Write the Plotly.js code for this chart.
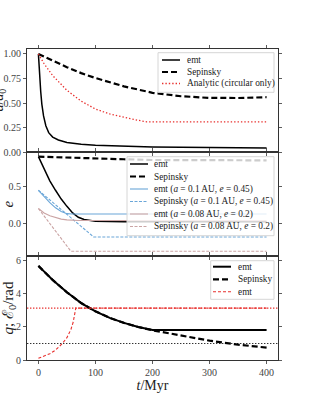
<!DOCTYPE html>
<html><head><meta charset="utf-8">
<script src="https://cdn.plot.ly/plotly-3.0.1.min.js"></script>
<style>html,body{margin:0;padding:0;background:#fff;}#chart{width:311px;height:405px;}</style>
</head><body><div id="chart"></div>
<script>
// ---------------- data ----------------
// top panel: a/a0
const tEmtA = [0,2,4,6,9,13,18,25,35,50,75,100,150,200,300,400];
const aEmt  = [1.0,0.78,0.62,0.49,0.37,0.27,0.2,0.155,0.125,0.1,0.082,0.072,0.061,0.054,0.048,0.045];
const tSepA = [0,25,50,75,100,150,200,250,300,350,400];
const aSep  = [1.0,0.93,0.865,0.805,0.755,0.67,0.605,0.57,0.553,0.552,0.56];
const tAna  = [0,10,25,50,75,100,125,150,175,190,400];
const aAna  = [1.0,0.9,0.78,0.63,0.52,0.44,0.39,0.355,0.325,0.31,0.31];
// middle panel: e
const tEmtE = [0,10,20,30,40,50,60,70,80,100,150,400];
const eEmt  = [0.91,0.74,0.58,0.45,0.33,0.23,0.14,0.08,0.05,0.025,0.02,0.02];
const tSepE = [0,50,100,150,200,300,400];
const eSep  = [0.91,0.895,0.885,0.875,0.865,0.86,0.86];
const tEmtB = [0,10,20,30,40,50,60,400];
const eEmtB = [0.45,0.36,0.28,0.21,0.16,0.13,0.125,0.125];
const tSepB = [0,97,400];
const eSepB = [0.45,-0.19,-0.19];
const tEmtR = [0,10,20,30,40,50,70,400];
const eEmtR = [0.2,0.14,0.10,0.075,0.055,0.045,0.037,0.035];
const tSepR = [0,57,400];
const eSepR = [0.2,-0.385,-0.385];
// bottom panel: q ; E0/rad
const tEmtQ = [0,25,50,75,100,125,150,175,200,400];
const qEmt  = [5.7,4.85,4.1,3.45,2.95,2.55,2.25,2.0,1.82,1.82];
const tSepQ = [0,25,50,75,100,125,150,175,200,250,300,350,400];
const qSep  = [5.7,4.85,4.1,3.45,2.95,2.55,2.25,2.0,1.8,1.47,1.17,0.93,0.75];
const tEmtE0 = [0,10,20,30,42,50,57,61,63.5,65.5,400];
const e0Emt  = [0.1,0.22,0.38,0.6,1.0,1.35,1.85,2.3,2.7,3.14,3.14];
const levelPi  = 3.1416;
const levelOne = 1.0;
// tick labels
const xTicks = [0,100,200,300,400];
const yTicksA = [0,0.25,0.5,0.75,1.0];
const yTextA  = ['0.00','0.25','0.50','0.75','1.00'];
const yTicksE = [0,0.5];
const yTextE  = ['0.0','0.5'];
const yTicksQ = [0,2,4,6];

// ---------------- styling ----------------
const FF = 'Liberation Serif, Times New Roman, serif';
const BLUE = '#6aa6d8', ROSY = '#caa4a4', RED = '#e8302e';
function tr(x,y,xa,ya,name,color,width,dash){
  return {x:x,y:y,xaxis:xa,yaxis:ya,name:name,type:'scatter',mode:'lines',
    line:{color:color,width:width,dash:dash||'solid'},showlegend:false,hoverinfo:'skip'};
}
const traces = [
  tr(tEmtA,aEmt,'x','y','emt','#000',1.5),
  tr(tSepA,aSep,'x','y','Sepinsky','#000',2.2,'6px,3px'),
  tr(tAna,aAna,'x','y','Analytic (circular only)',RED,1.3,'1.4px,2px'),
  tr(tEmtE,eEmt,'x2','y2','emt','#000',1.5),
  tr(tSepE,eSep,'x2','y2','Sepinsky','#000',2.2,'6px,3px'),
  tr(tEmtB,eEmtB,'x2','y2','emt (<i>a</i> = 0.1 AU, <i>e</i> = 0.45)',BLUE,1.1),
  tr(tSepB,eSepB,'x2','y2','Sepinsky (<i>a</i> = 0.1 AU, <i>e</i> = 0.45)',BLUE,1.1,'3px,1.5px'),
  tr(tEmtR,eEmtR,'x2','y2','emt (<i>a</i> = 0.08 AU, <i>e</i> = 0.2)',ROSY,1.1),
  tr(tSepR,eSepR,'x2','y2','Sepinsky (<i>a</i> = 0.08 AU, <i>e</i> = 0.2)',ROSY,1.1,'3px,1.5px'),
  tr(tEmtQ,qEmt,'x3','y3','emt','#000',2),
  tr(tSepQ,qSep,'x3','y3','Sepinsky','#000',2.2,'6px,3px'),
  tr(tEmtE0,e0Emt,'x3','y3','emt',RED,1.1,'3px,2px')
];

// pixel -> paper helpers (plot area 27..278 x, 49..360 y)
const L=27, R=278, T=49, B=360;
const px = v => (v-L)/(R-L);
const py = v => (B-v)/(B-T);

const shapes = [
  {type:'line',xref:'paper',x0:0,x1:1,yref:'y3',y0:levelPi,y1:levelPi,layer:'below',
   line:{color:RED,width:1.1,dash:'1.4px,1.6px'}},
  {type:'line',xref:'paper',x0:0,x1:1,yref:'y3',y0:levelOne,y1:levelOne,layer:'below',
   line:{color:'#333',width:1.1,dash:'1.4px,1.6px'}}
];
const annotations = [
  // top y-axis title sits at the very left page edge (partly cut, as in the reference)
  {xref:'paper',yref:'paper',x:px(0),y:py(100.6),xanchor:'center',yanchor:'middle',textangle:-90,
   showarrow:false,text:'<i>a</i>/<i>a</i><sub>0</sub>',font:{family:FF,size:14,color:'#222'}}
];
function legendBlock(box, rows, sx0, sx1, tx, idx){
  shapes.push({type:'rect',xref:'paper',yref:'paper',x0:px(box[0]),x1:px(box[2]),y0:py(box[3]),y1:py(box[1]),
    fillcolor:'rgba(255,255,255,0.8)',line:{color:'#d6d6d6',width:1},layer:'above'});
  idx.forEach((k,i)=>{
    const t = traces[k];
    shapes.push({type:'line',xref:'paper',yref:'paper',x0:px(sx0),x1:px(sx1),y0:py(rows[i]),y1:py(rows[i]),
      layer:'above',line:{color:t.line.color,width:t.line.width,dash:t.line.dash}});
    annotations.push({xref:'paper',yref:'paper',x:px(tx),y:py(rows[i]),xanchor:'left',yanchor:'middle',
      showarrow:false,text:t.name,font:{family:FF,size:9.3,color:'#222'},borderpad:0});
  });
}
legendBlock([158,52.7,274,92.3],[60,72,83.5],162,180,185.5,[0,1,2]);
legendBlock([127,156.7,274,235.7],[164,176.5,189,201.5,214,226.5],130,148,152.5,[3,4,5,6,7,8]);
legendBlock([210.7,260.7,274,299.3],[266.7,279.3,291.7],213,231,237,[9,10,11]);

const ax = {showline:true,linecolor:'#333',linewidth:1,mirror:'ticks',ticks:'outside',ticklen:3,
  tickwidth:0.8,tickcolor:'#333',showgrid:false,zeroline:false,
  tickfont:{family:FF,size:10,color:'#444'}};
const xax = Object.assign({},ax,{range:[-20,420],tickvals:xTicks,showticklabels:false});
const layout = {
  width:311,height:405,margin:{l:L,r:311-R,t:T,b:405-B},
  paper_bgcolor:'#fff',plot_bgcolor:'#fff',showlegend:false,
  font:{family:FF,color:'#222'},
  xaxis:Object.assign({},xax,{anchor:'y'}),
  xaxis2:Object.assign({},xax,{anchor:'y2'}),
  xaxis3:Object.assign({},xax,{anchor:'y3',showticklabels:true,
    title:{text:'<i>t</i>/Myr',font:{family:FF,size:14,color:'#222'},standoff:1}}),
  yaxis:Object.assign({},ax,{anchor:'x',domain:[0.6678,1],range:[0,1.05],tickvals:yTicksA,ticktext:yTextA}),
  yaxis2:Object.assign({},ax,{anchor:'x2',domain:[0.3344,0.6678],range:[-0.45,0.97],tickvals:yTicksE,ticktext:yTextE,
    title:{text:'<i>e</i>',font:{family:FF,size:15,color:'#222'}}}),
  yaxis3:Object.assign({},ax,{anchor:'x3',domain:[0,0.3344],range:[0,6.3],tickvals:yTicksQ,
    title:{text:'<i>q</i>; ℰ<sub>0</sub>/rad',font:{family:FF,size:15,color:'#222'}}}),
  shapes:shapes,annotations:annotations
};
Plotly.newPlot('chart',traces,layout,{staticPlot:true,displayModeBar:false});
</script></body></html>
